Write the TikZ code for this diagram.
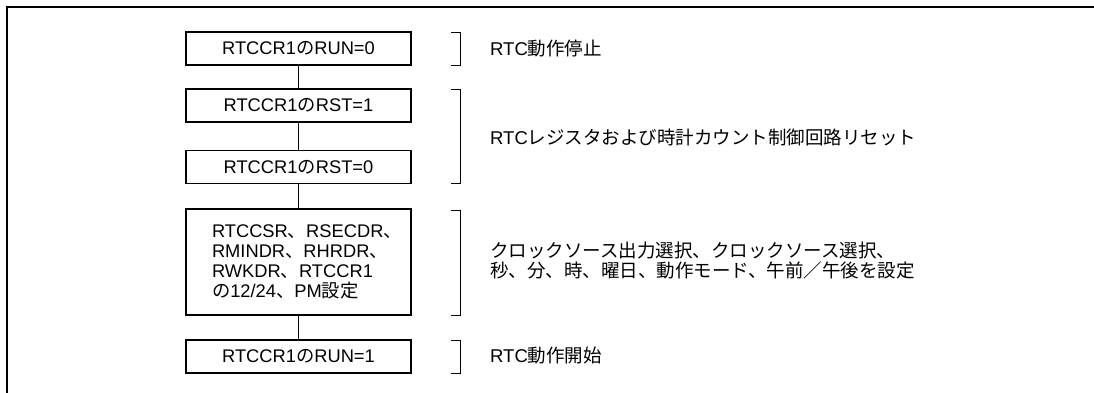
\documentclass[tikz,border=0pt]{standalone}
\usepackage{fontspec}
\setmainfont{Liberation Sans}
\newfontfamily\jp{Noto Sans CJK JP}
\begin{document}
\begin{tikzpicture}[x=1pt,y=-1pt,
  stepbox/.style={draw,line width=1.6pt,minimum width=225pt,inner sep=0pt,
    font=\fontsize{18.3}{20}\selectfont,align=left},
  link/.style={line width=0.9pt},
  brk/.style={line width=0.9pt},
  note/.style={anchor=west,inner sep=0pt,font=\fontsize{18.5}{20}\selectfont,align=left}]
\useasboundingbox (0,0) rectangle (1094,393);
\draw[line width=2.5pt] (7,393) -- (7,7) -- (1094,7);
\node[stepbox,minimum height=33pt] (b1) at (298.5,48.3) {RTCCR1{\jp の}RUN=0};
\node[stepbox,minimum height=33pt] (b2) at (298.5,105.5) {RTCCR1{\jp の}RST=1};
\node[stepbox,minimum height=33pt] (b3) at (298.5,167) {RTCCR1{\jp の}RST=0};
\node[stepbox,minimum height=106pt,text width=173pt,inner xsep=26pt] (b4) at (298.5,262) {RTCCSR{\jp 、}RSECDR{\jp 、}\\RMINDR{\jp 、}RHRDR{\jp 、}\\RWKDR{\jp 、}RTCCR1\\{\jp の}12/24{\jp 、}PM{\jp 設定}};
\node[stepbox,minimum height=33pt] (b5) at (298.5,356.5) {RTCCR1{\jp の}RUN=1};
\draw[link] (b1) -- (b2);
\draw[link] (b2) -- (b3);
\draw[link] (b3) -- (b4);
\draw[link] (b4) -- (b5);
\draw[brk] (451,32) -- (460.5,32) -- (460.5,65) -- (451,65);
\draw[brk] (451,89) -- (460.5,89) -- (460.5,183) -- (451,183);
\draw[brk] (451,210) -- (460.5,210) -- (460.5,315) -- (451,315);
\draw[brk] (451,340) -- (460.5,340) -- (460.5,373) -- (451,373);
\node[note] (t1) at (490,49) {RTC{\jp 動作停止}};
\node[note] (t2) at (490,137) {RTC{\jp レジスタおよび時計カウント制御回路リセット}};
\node[note] (t3) at (490,261) {{\jp クロックソース出力選択、クロックソース選択、}\\{\jp 秒、分、時、曜日、動作モード、午前／午後を設定}};
\node[note] (t4) at (490,356) {RTC{\jp 動作開始}};
\end{tikzpicture}
\end{document}
